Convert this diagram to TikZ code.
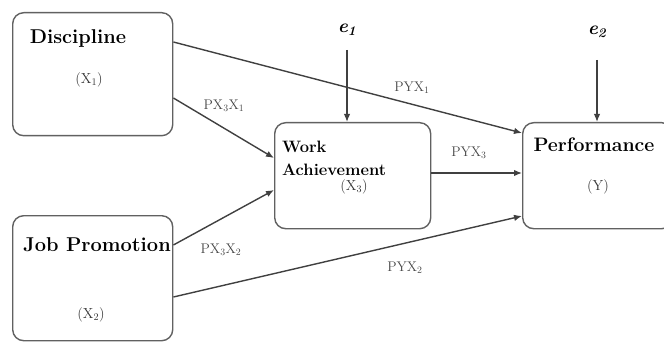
\documentclass[tikz,border=0pt]{standalone}
\usetikzlibrary{arrows.meta,calc}
\begin{document}
\begin{tikzpicture}[x=1pt,y=-1pt,
  box/.style={draw=black!62, line width=1.4pt, rounded corners=11pt, inner sep=0pt, anchor=north west},
  link/.style={draw=black!75, line width=1.4pt, -{Latex[length=8pt,width=6.5pt]}},
  lbl/.style={text=black!72, font=\fontsize{14}{16}\selectfont, inner sep=0pt},
  ttl/.style={font=\fontsize{20}{23}\selectfont\bfseries, inner sep=0pt},
  var/.style={font=\fontsize{14.5}{16}\selectfont, text=black!80, inner sep=0pt},
  err/.style={font=\fontsize{19}{22}\selectfont\bfseries\itshape, inner sep=0pt}
]
\useasboundingbox (0,0) rectangle (664,342);

% boxes
\node[box, minimum width=160pt, minimum height=123pt] (disc) at (12,12) {};
\node[box, minimum width=160pt, minimum height=125pt] (job)  at (12,215) {};
\node[box, minimum width=156pt, minimum height=106pt] (work) at (274,122) {};
\node[box, minimum width=150pt, minimum height=106pt] (perf) at (522,122) {};

% box texts
\node[ttl] (tdisc) at (78,39) {Discipline};
\node[var] (vdisc) at (89,80) {(X\textsubscript{1})};
\node[ttl] (tjob) at (97,245) {Job Promotion};
\node[var] (vjob) at (91,315) {(X\textsubscript{2})};
\node[ttl, font=\fontsize{16.5}{18}\selectfont\bfseries, anchor=west] (twork1) at (282,147) {Work};
\node[ttl, font=\fontsize{16.5}{18}\selectfont\bfseries, anchor=west] (twork2) at (282,170) {Achievement};
\node[var] (vwork) at (354,187) {(X\textsubscript{3})};
\node[ttl, font=\fontsize{19.5}{23}\selectfont\bfseries] (tperf) at (594,145) {Performance};
\node[var] (vperf) at (598,187) {(Y)};

% error terms
\node[err] (e1) at (347,30) {e\textsubscript{1}};
\node[err] (e2) at (597,32) {e\textsubscript{2}};
\coordinate (e1s) at (347,50);
\coordinate (e2s) at (597,60);
\draw[link] (e1s) -- (e1s |- work.north);
\draw[link] (e2s) -- (e2s |- perf.north);

% paths
\draw[link] ($(disc.north east)+(0,30)$) -- ($(perf.north west)+(0,11)$);
\draw[link] ($(disc.north east)+(0,86)$) -- ($(work.north west)+(0,36)$);
\draw[link] ($(job.north east)+(0,30)$) -- ($(work.north west)+(0,68)$);
\draw[link] ($(job.north east)+(0,82)$) -- ($(perf.north west)+(0,94)$);
\draw[link] ($(work.north east)+(0,51)$) -- ($(perf.north west)+(0,51)$);

% path labels
\node[lbl] (l1) at (412,88) {PYX\textsubscript{1}};
\node[lbl] (l2) at (224,106) {PX\textsubscript{3}X\textsubscript{1}};
\node[lbl] (l3) at (221,250) {PX\textsubscript{3}X\textsubscript{2}};
\node[lbl] (l4) at (405,268) {PYX\textsubscript{2}};
\node[lbl] (l5) at (469,153) {PYX\textsubscript{3}};
\end{tikzpicture}
\end{document}
